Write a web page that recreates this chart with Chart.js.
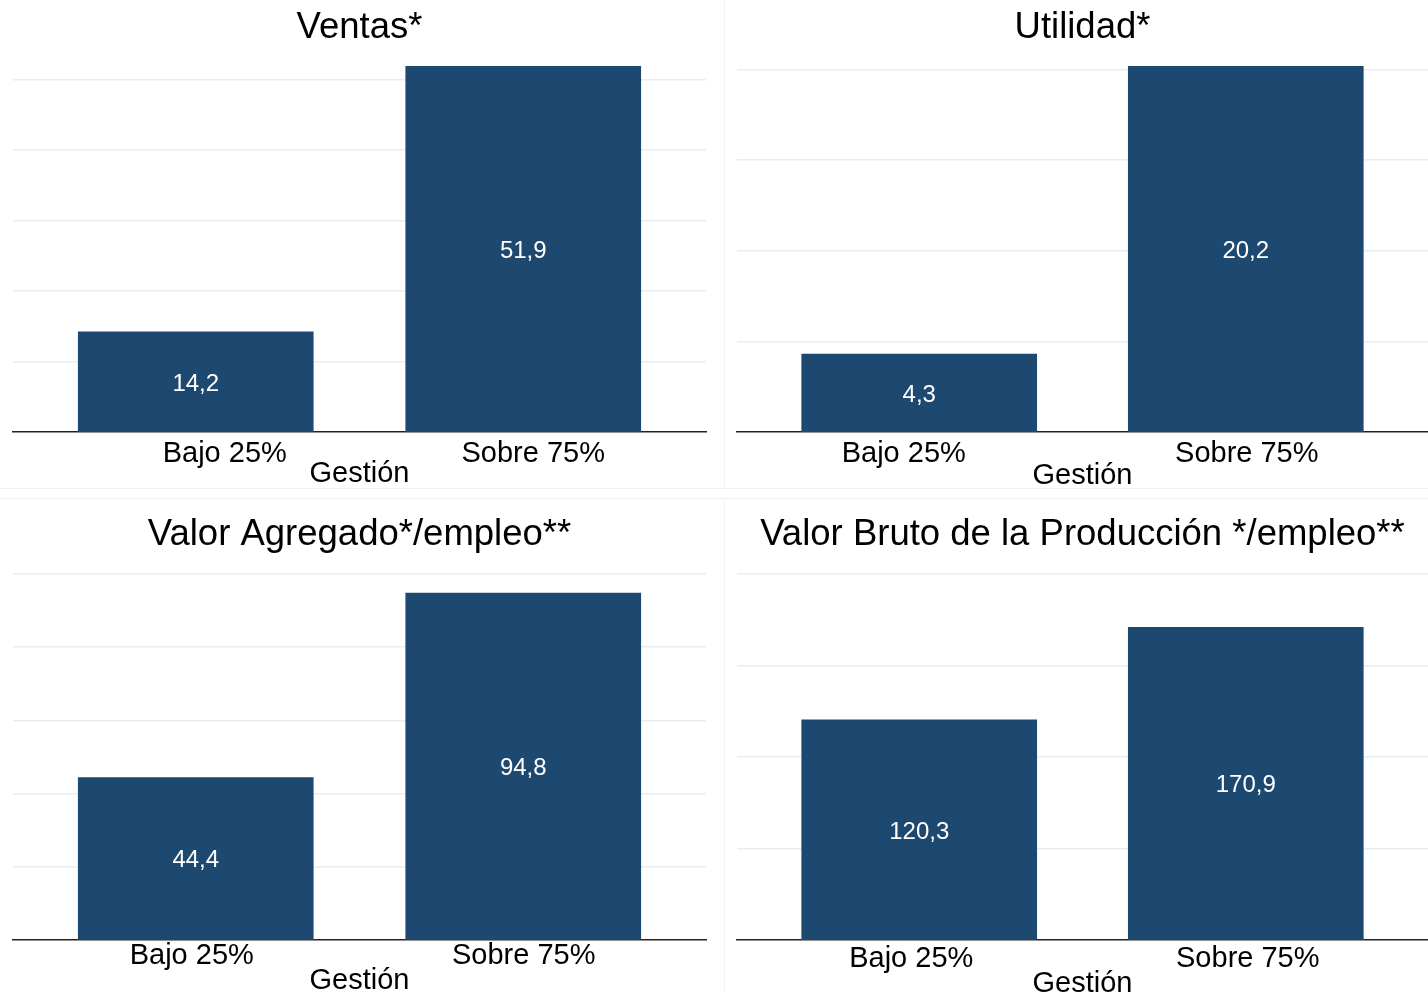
<!DOCTYPE html>
<html>
<head>
<meta charset="utf-8">
<script src="https://cdn.jsdelivr.net/npm/chart.js@4/dist/chart.umd.min.js"></script>
<style>
  html, body { margin: 0; padding: 0; background: #ffffff; }
  #wrap { position: relative; width: 1428px; height: 992px; overflow: hidden; background: #fff; }
  .panel { position: absolute; }
  .sep { position: absolute; background: #f1f1f1; }
</style>
</head>
<body>
<div id="wrap">
  <div class="panel" style="left:0;top:0;width:724px;height:488px"><canvas id="c0" width="724" height="488"></canvas></div>
  <div class="panel" style="left:724px;top:0;width:704px;height:488px"><canvas id="c1" width="704" height="488"></canvas></div>
  <div class="panel" style="left:0;top:498px;width:724px;height:494px"><canvas id="c2" width="724" height="494"></canvas></div>
  <div class="panel" style="left:724px;top:498px;width:704px;height:494px"><canvas id="c3" width="704" height="494"></canvas></div>
  <div class="sep" style="left:0;top:488px;width:1428px;height:1px"></div>
  <div class="sep" style="left:0;top:498px;width:1428px;height:1px"></div>
  <div class="sep" style="left:724px;top:0;width:1px;height:488px"></div>
  <div class="sep" style="left:724px;top:498px;width:1px;height:494px"></div>
</div>
<script>
// ---- data ----
const categories = ['Bajo 25%', 'Sobre 75%'];
const axisTitle = 'Gestión';
const titles = ['Ventas*', 'Utilidad*', 'Valor Agregado*/empleo**', 'Valor Bruto de la Producción */empleo**'];
const ventas = [14.2, 51.9];
const utilidad = [4.3, 20.2];
const valorAgregado = [44.4, 94.8];
const valorBruto = [120.3, 170.9];
const yMax = [51.9, 20.2, 100, 200];
const yStep = [10, 5, 20, 50];

const series = [ventas, utilidad, valorAgregado, valorBruto];

// ---- styles ----
const FONT = "'Liberation Sans', Arial, Helvetica, sans-serif";
const barColor = '#1d4870';
const gridColor = '#e6eef1';
const panels = [
  { id: 'c0', padL: 13, padR: 18, titleTop: 6,  titleBottom: 16.2, axisH: 56, tickPad: 4.5,  gestPad: -0.5, labelShift: [29, 10] },
  { id: 'c1', padL: 13, padR: 0,  titleTop: 6,  titleBottom: 16.2, axisH: 56, tickPad: 5,    gestPad: -2.5, labelShift: [-15.5, 1] },
  { id: 'c2', padL: 13, padR: 18, titleTop: 15, titleBottom: 17.2, axisH: 52, tickPad: -1,   gestPad: -3.5, labelShift: [-4, 0.5] },
  { id: 'c3', padL: 13, padR: 0,  titleTop: 15, titleBottom: 17.2, axisH: 52, tickPad: 2,    gestPad: -6.5, labelShift: [-8, 2] }
];
const PX_PER_UNIT = 327.5;
const LABEL_DY = 2;

const valueLabels = {
  id: 'valueLabels',
  afterDatasetsDraw(chart) {
    const ctx = chart.ctx;
    ctx.save();
    ctx.fillStyle = '#ffffff';
    ctx.font = '24px ' + FONT;
    ctx.textAlign = 'center';
    ctx.textBaseline = 'middle';
    chart.data.datasets.forEach((ds, di) => {
      chart.getDatasetMeta(di).data.forEach((el, i) => {
        const v = ds.data[i].y;
        ctx.fillText(v.toFixed(1).replace('.', ','), el.x, (el.y + el.base) / 2 + LABEL_DY);
      });
    });
    ctx.restore();
  }
};

panels.forEach((p, k) => {
  const vals = series[k];
  const step = yStep[k];
  const max = yMax[k];
  new Chart(document.getElementById(p.id), {
    type: 'bar',
    data: {
      datasets: [{
        data: categories.map((c, i) => ({ x: i + 1, y: vals[i] })),
        backgroundColor: barColor,
        borderWidth: 0,
        barThickness: 235
      }]
    },
    options: {
      responsive: false,
      animation: false,
      devicePixelRatio: 1,
      layout: { padding: { left: p.padL, right: p.padR, top: 0, bottom: 0 } },
      plugins: {
        legend: { display: false },
        tooltip: { enabled: false },
        title: {
          display: true,
          text: titles[k],
          color: '#000000',
          font: { family: FONT, size: 36.5, weight: 'normal', lineHeight: 1.2 },
          padding: { top: p.titleTop, bottom: p.titleBottom }
        }
      },
      scales: {
        x: {
          type: 'linear',
          offset: false,
          min: 0.442,
          max: 2.558,
          grid: { display: false, drawTicks: false, offset: false },
          border: { display: true, color: '#222222', width: 1.5 },
          afterBuildTicks(scale) {
            scale.ticks = categories.map((c, i) => ({ value: i + 1 + p.labelShift[i] / PX_PER_UNIT }));
          },
          ticks: {
            autoSkip: false,
            maxRotation: 0,
            padding: p.tickPad,
            color: '#000000',
            font: { family: FONT, size: 29 },
            callback: (v, i) => categories[i]
          },
          title: {
            display: true,
            text: axisTitle,
            color: '#000000',
            font: { family: FONT, size: 29, lineHeight: 1 },
            padding: { top: 0, bottom: p.gestPad }
          },
          afterFit(scale) { scale.height = p.axisH; }
        },
        y: {
          min: 0,
          max: max,
          afterBuildTicks(scale) {
            const t = [];
            for (let v = step; v <= max + 1e-9; v += step) t.push({ value: v });
            scale.ticks = t;
          },
          grid: { color: gridColor, lineWidth: 1.5, drawTicks: false },
          border: { display: false },
          ticks: { display: false },
          afterFit(scale) { scale.width = 0; }
        }
      }
    },
    plugins: [valueLabels]
  });
});
</script>
</body>
</html>
